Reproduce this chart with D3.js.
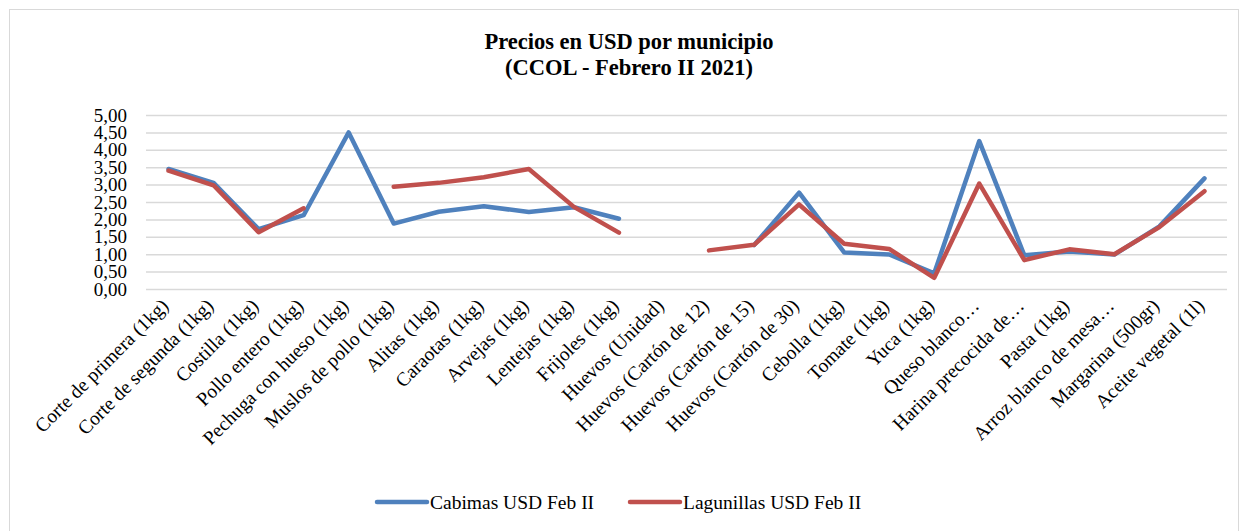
<!DOCTYPE html>
<html>
<head>
<meta charset="utf-8">
<script src="https://cdn.jsdelivr.net/npm/d3@7"></script>
<style>
  body { margin: 0; background: #fff; }
  text { font-family: "Liberation Serif", "Times New Roman", serif; fill: #000; }
</style>
</head>
<body>
<div id="chart"></div>
<script>
// Data
var categories = ["Corte de primera (1kg)", "Corte de segunda (1kg)", "Costilla (1kg)", "Pollo entero (1kg)",
  "Pechuga con hueso (1kg)", "Muslos de pollo (1kg)", "Alitas (1kg)", "Caraotas (1kg)", "Arvejas (1kg)",
  "Lentejas (1kg)", "Frijoles (1kg)", "Huevos (Unidad)", "Huevos (Cartón de 12)", "Huevos (Cartón de 15)",
  "Huevos (Cartón de 30)", "Cebolla (1kg)", "Tomate (1kg)", "Yuca (1kg)", "Queso blanco…",
  "Harina precocida de…", "Pasta (1kg)", "Arroz blanco de mesa…", "Margarina (500gr)", "Aceite vegetal (1l)"];
var cabimas = [3.45, 3.05, 1.72, 2.12, 4.50, 1.88, 2.22, 2.38, 2.21, 2.35, 2.02, null, null, 1.26,
  2.77, 1.05, 0.99, 0.45, 4.25, 0.97, 1.08, 0.99, 1.80, 3.18];
var lagunillas = [3.40, 2.98, 1.63, 2.32, null, 2.94, 3.05, 3.21, 3.45, 2.36, 1.62, null, 1.11, 1.27,
  2.43, 1.30, 1.15, 0.32, 3.03, 0.83, 1.14, 1.00, 1.78, 2.81];
var yTicks = [0, 0.5, 1, 1.5, 2, 2.5, 3, 3.5, 4, 4.5, 5];
var seriesNames = ["Cabimas USD Feb II", "Lagunillas USD Feb II"];
var colors = ["#4f81bd", "#c0504d"];

var W = 1246, H = 531;
var margin = { top: 115, right: 19, bottom: 242, left: 146 };
var width = W - margin.left - margin.right;
var height = H - margin.top - margin.bottom;

var svg = d3.select("#chart").append("svg")
  .attr("width", W)
  .attr("height", H);

// outer frame
svg.append("rect")
  .attr("x", 9.5).attr("y", 9.5)
  .attr("width", 1229).attr("height", 530)
  .attr("fill", "none")
  .attr("stroke", "#d9d9d9")
  .attr("stroke-width", 1);

// title
svg.append("text")
  .attr("x", 629).attr("y", 49)
  .attr("text-anchor", "middle")
  .style("font-size", "22.5px").style("font-weight", "bold")
  .text("Precios en USD por municipio");
svg.append("text")
  .attr("x", 629).attr("y", 75)
  .attr("text-anchor", "middle")
  .style("font-size", "22.5px").style("font-weight", "bold")
  .text("(CCOL - Febrero II 2021)");

var g = svg.append("g")
  .attr("transform", "translate(" + margin.left + "," + margin.top + ")");

var x = d3.scaleBand()
  .domain(categories)
  .range([0, width]);

var y = d3.scaleLinear()
  .domain([0, 5])
  .range([height, 0]);

// gridlines
g.append("g")
  .attr("class", "grid")
  .call(d3.axisLeft(y).tickValues(yTicks).tickSize(-width).tickFormat(""))
  .call(function (s) {
    s.select(".domain").remove();
    s.selectAll("line").attr("stroke", "#d9d9d9").attr("stroke-width", 1.5);
  });

// y axis labels
var fmt = function (d) { return d3.format(".2f")(d).replace(".", ","); };
g.append("g")
  .call(d3.axisLeft(y).tickValues(yTicks).tickSize(0).tickPadding(19).tickFormat(fmt))
  .call(function (s) {
    s.select(".domain").remove();
    s.selectAll("text")
      .style("font-size", "19px")
      .style("font-family", "'Liberation Serif', serif")
      .attr("dy", "0.32em");
  });

// x axis labels
g.append("g")
  .attr("transform", "translate(0," + height + ")")
  .call(d3.axisBottom(x).tickSize(0).tickPadding(0))
  .call(function (s) {
    s.select(".domain").remove();
    s.selectAll("text")
      .style("font-size", "19.5px")
      .style("font-family", "'Liberation Serif', serif")
      .attr("text-anchor", "end")
      .attr("dy", "0")
      .attr("y", 0)
      .attr("transform", "translate(1,18) rotate(-45)");
  });

// lines
var line = d3.line()
  .defined(function (d) { return d != null; })
  .x(function (d, i) { return x(categories[i]) + x.bandwidth() / 2; })
  .y(function (d) { return y(d); });

[cabimas, lagunillas].forEach(function (data, k) {
  g.append("path")
    .datum(data)
    .attr("fill", "none")
    .attr("stroke", colors[k])
    .attr("stroke-width", 4.5)
    .attr("stroke-linejoin", "round")
    .attr("stroke-linecap", "round")
    .attr("d", line);
});

// legend
var legendX = [377, 630];
seriesNames.forEach(function (name, k) {
  var lg = svg.append("g").attr("transform", "translate(" + legendX[k] + ",502)");
  lg.append("line")
    .attr("x1", 0).attr("x2", 50)
    .attr("stroke", colors[k])
    .attr("stroke-width", 4.5)
    .attr("stroke-linecap", "round");
  lg.append("text")
    .attr("x", 53).attr("y", 6.5)
    .style("font-size", "19.5px")
    .text(name);
});
</script>
</body>
</html>
